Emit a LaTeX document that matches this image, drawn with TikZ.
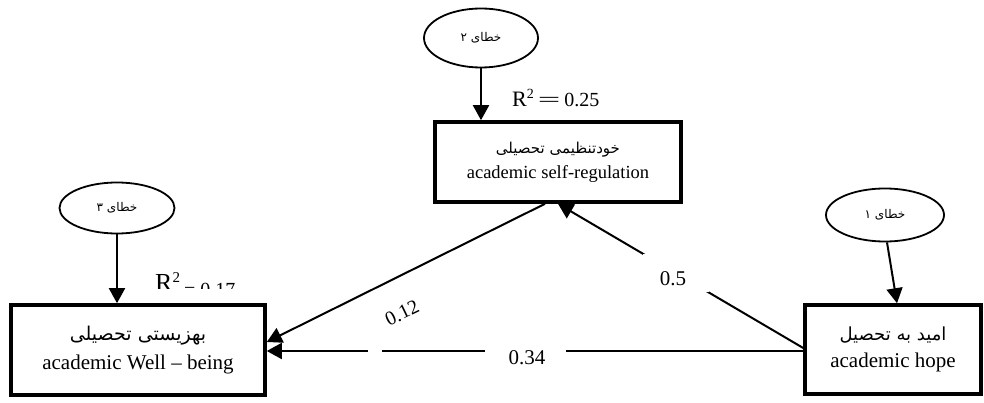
\documentclass[tikz,border=0pt]{standalone}
\usepackage{fontspec}
\setmainfont{Liberation Serif}
\newfontfamily\arabicfont[Script=Arabic]{DejaVu Sans}
\TeXXeTstate=1
\usetikzlibrary{arrows.meta,shapes.geometric,calc}
\newcommand{\fa}[1]{\arabicfont\fontsize{#1}{#1}\selectfont}
\newcommand{\en}[2]{{\fontsize{#1}{#1}\selectfont #2}}
\begin{document}
\begin{tikzpicture}[x=1pt,y=-1pt,
  box/.style={draw,line width=3.6pt,rectangle,align=center,inner sep=0pt},
  err/.style={draw,line width=1.8pt,ellipse,inner sep=0pt},
  conn/.style={line width=2pt,-{Triangle[length=15pt,width=16pt]}},
  gapbox/.style={fill=white,inner sep=0pt},
  rlab/.style={inner sep=0pt,anchor=base west}]
\useasboundingbox[fill=white] (0,0) rectangle (984,403);
% boxes
\node[box,minimum width=246pt,minimum height=80pt] (sr) at (558,162)
  {{\fa{15}\beginR خودتنظیمی تحصیلی\endR}\\[7pt]\en{18.5}{academic self-regulation}};
\node[box,minimum width=254pt,minimum height=90pt] (wb) at (138,350)
  {{\fa{19}\beginR بهزیستی تحصیلی\endR}\\[8pt]\en{21}{academic Well -- being}};
\node[box,minimum width=176pt,minimum height=89pt] (hp) at (893,349.5)
  {{\fa{18}\beginR امید به تحصیل\endR}\\[8pt]\en{21}{academic hope}};
% error ellipses
\node[err,minimum width=114pt,minimum height=59pt] (e2) at (481,38) {{\fa{12}\beginR خطای ۲\endR}};
\node[err,minimum width=115pt,minimum height=51pt] (e3) at (117,208) {{\fa{12}\beginR خطای ۳\endR}};
\node[err,minimum width=118pt,minimum height=53pt] (e1) at (885,215) {{\fa{12}\beginR خطای ۱\endR}};
% error arrows
\draw[conn] (e2.south) -- (e2.south |- sr.north);
\draw[conn] (e3.south) -- (e3.south |- wb.north);
\draw[conn] ($(e1.south)+(2,0)$) -- ($(hp.north)+(4,0)$);
% paths
\draw[conn] ($(hp.west)+(0,-1.5)$) -- node[gapbox,pos=0.52,minimum width=66pt,minimum height=38pt] (g5) {} (sr.south);
\node[inner sep=0pt] (l5) at (673,279) {\en{21}{0.5}};
\draw[conn] ($(sr.south)+(-13,0)$) -- ($(wb.east)+(0,-8)$);
\node[rotate=26,inner sep=0pt] (l12) at (402,313) {\en{20}{0.12}};
\draw[conn] ($(hp.west)+(0,1.5)$) -- node[gapbox,pos=0.517,minimum width=81pt,minimum height=12pt] (g34) {} ($(wb.east)+(0,1)$);
\node[inner sep=0pt] (l34) at (527,358) {\en{21}{0.34}};
\fill[white] (368,346) rectangle (382,356);
% R squared labels
\node[rlab] (r1) at (512,107) {\en{22}{R}\raisebox{8pt}{\en{14}{2}}\hspace{4pt}\scalebox{2}[1]{\en{20}{=}}\hspace{4pt}\en{20}{0.25}};
\begin{scope}
\clip (140,255) rectangle (270,288);
\node[rlab] (r2) at (155,291) {\en{26}{R}\raisebox{9pt}{\en{15}{2}}\hspace{4pt}\raisebox{-5pt}{\en{20}{= 0.17}}};
\end{scope}
\end{tikzpicture}
\end{document}
